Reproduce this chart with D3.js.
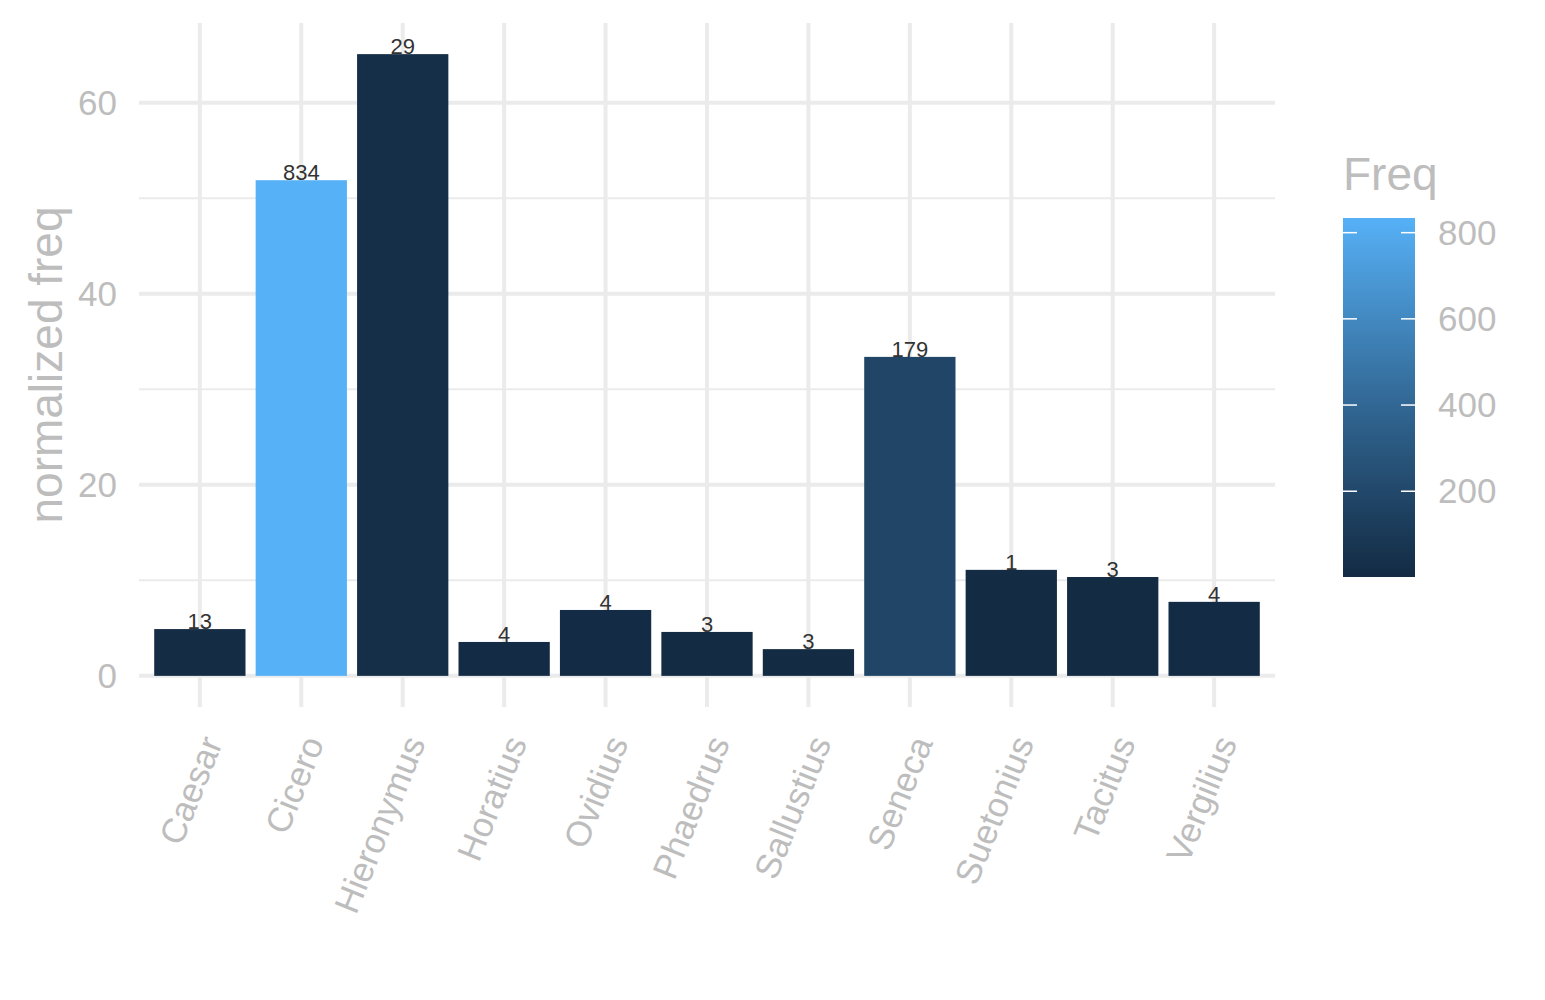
<!DOCTYPE html>
<html>
<head>
<meta charset="utf-8">
<script src="https://cdn.jsdelivr.net/npm/d3@7"></script>
<style>
body { margin:0; background:#fff; }
text { font-family: "Liberation Sans", Arial, sans-serif; }
</style>
</head>
<body>
<div id="chart-area"></div>
<script>
// data
var authors = ["Caesar","Cicero","Hieronymus","Horatius","Ovidius","Phaedrus","Sallustius","Seneca","Suetonius","Tacitus","Vergilius"];
var normFreq = [4.9, 51.9, 65.1, 3.55, 6.9, 4.6, 2.8, 33.4, 11.1, 10.35, 7.75];
var freq = [13, 834, 29, 4, 4, 3, 3, 179, 1, 3, 4];
var yTicks = [0, 20, 40, 60];
var yMinor = [10, 30, 50];
var legendTicks = [200, 400, 600, 800];

var W = 1545, H = 1000;
var panel = { left:139, right:1275, top:23, bottom:707 };

var svg = d3.select("#chart-area")
    .append("svg")
        .attr("width", W)
        .attr("height", H);

// Scales
var x = d3.scaleBand()
    .domain(authors)
    .range([panel.left + 0.6 * 101.4 - 101.4/2, panel.right - 0.6 * 101.4 + 101.4/2])
    .paddingInner(0.1)
    .paddingOuter(0.05);

var y = d3.scaleLinear()
    .domain([-3.26, 68.36])
    .range([panel.bottom, panel.top]);

var color = d3.scaleLinear()
    .domain([1, 834])
    .range(["#132B43", "#56B1F7"])
    .interpolate(d3.interpolateLab);

var grid = svg.append("g");

// minor grid
grid.selectAll(".minor").data(yMinor).enter().append("line")
    .attr("x1", panel.left).attr("x2", panel.right)
    .attr("y1", function(d){ return y(d); }).attr("y2", function(d){ return y(d); })
    .attr("stroke", "#ebebeb").attr("stroke-width", 2);

// major grid
grid.selectAll(".major").data(yTicks).enter().append("line")
    .attr("x1", panel.left).attr("x2", panel.right)
    .attr("y1", function(d){ return y(d); }).attr("y2", function(d){ return y(d); })
    .attr("stroke", "#ebebeb").attr("stroke-width", 4);

grid.selectAll(".vgrid").data(authors).enter().append("line")
    .attr("x1", function(d){ return x(d) + x.bandwidth()/2; })
    .attr("x2", function(d){ return x(d) + x.bandwidth()/2; })
    .attr("y1", panel.top).attr("y2", panel.bottom)
    .attr("stroke", "#ebebeb").attr("stroke-width", 4);

// Bars
var rows = authors.map(function(a, i){ return { name:a, v:normFreq[i], f:freq[i] }; });

svg.selectAll("rect.bar").data(rows).enter().append("rect")
    .attr("class", "bar")
    .attr("x", function(d){ return x(d.name); })
    .attr("width", x.bandwidth())
    .attr("y", function(d){ return y(d.v); })
    .attr("height", function(d){ return y(0) - y(d.v); })
    .attr("fill", function(d){ return color(d.f); });

svg.selectAll("text.val").data(rows).enter().append("text")
    .attr("class", "val")
    .attr("x", function(d){ return x(d.name) + x.bandwidth()/2; })
    .attr("y", function(d){ return y(d.v); })
    .attr("text-anchor", "middle")
    .attr("font-size", "22px")
    .attr("fill", "#333")
    .text(function(d){ return d.f; });

// Y axis labels
svg.selectAll("text.ytick").data(yTicks).enter().append("text")
    .attr("x", 117)
    .attr("y", function(d){ return y(d); })
    .attr("dy", "0.35em")
    .attr("text-anchor", "end")
    .attr("font-size", "35px")
    .attr("fill", "#bdbdbd")
    .text(function(d){ return d; });

// X axis labels
svg.selectAll("text.xtick").data(authors).enter().append("text")
    .attr("transform", function(d){
        return "translate(" + (x(d) + x.bandwidth()/2 + 12) + ",738) rotate(-68)";
    })
    .attr("dy", "0.35em")
    .attr("text-anchor", "end")
    .attr("font-size", "35px")
    .attr("fill", "#bdbdbd")
    .text(function(d){ return d; });

// Y title
svg.append("text")
    .attr("transform", "translate(62," + ((panel.top + panel.bottom)/2) + ") rotate(-90)")
    .attr("text-anchor", "middle")
    .attr("font-size", "46px")
    .attr("fill", "#bdbdbd")
    .text("normalized freq");

// Legend
var lg = { x:1343, w:72, top:218, bottom:577 };
var ly = d3.scaleLinear().domain([1, 834]).range([lg.bottom, lg.top]);

var defs = svg.append("defs");
var grad = defs.append("linearGradient")
    .attr("id", "freqgrad")
    .attr("x1", 0).attr("y1", 1).attr("x2", 0).attr("y2", 0);
d3.range(0, 1.0001, 0.1).forEach(function(t){
    grad.append("stop")
        .attr("offset", t)
        .attr("stop-color", color(1 + t * 833));
});

svg.append("text")
    .attr("x", lg.x)
    .attr("y", 190)
    .attr("font-size", "46px")
    .attr("fill", "#bdbdbd")
    .text("Freq");

svg.append("rect")
    .attr("x", lg.x).attr("y", lg.top)
    .attr("width", lg.w).attr("height", lg.bottom - lg.top)
    .attr("fill", "url(#freqgrad)");

legendTicks.forEach(function(t){
    svg.append("line")
        .attr("x1", lg.x).attr("x2", lg.x + 14)
        .attr("y1", ly(t)).attr("y2", ly(t))
        .attr("stroke", "#fff").attr("stroke-width", 1.5);
    svg.append("line")
        .attr("x1", lg.x + lg.w - 14).attr("x2", lg.x + lg.w)
        .attr("y1", ly(t)).attr("y2", ly(t))
        .attr("stroke", "#fff").attr("stroke-width", 1.5);
    svg.append("text")
        .attr("x", 1438)
        .attr("y", ly(t))
        .attr("dy", "0.35em")
        .attr("font-size", "35px")
        .attr("fill", "#bdbdbd")
        .text(t);
});
</script>
</body>
</html>
